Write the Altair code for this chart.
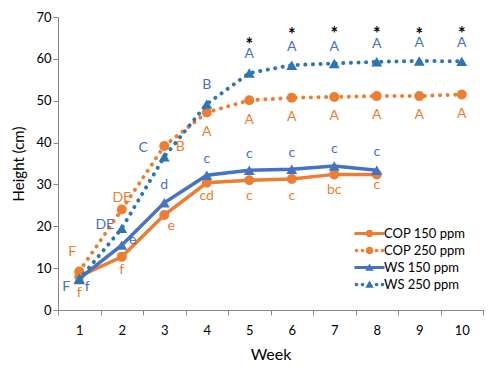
import altair as alt
import pandas as pd

# ---------------- data ----------------
weeks = [1, 2, 3, 4, 5, 6, 7, 8, 9, 10]
series_names = ["COP 150 ppm", "COP 250 ppm", "WS 150 ppm", "WS 250 ppm"]

cop150 = [8.0, 12.7, 22.7, 30.4, 31.0, 31.3, 32.4, 32.4]
cop250 = [9.2, 24.0, 39.2, 47.2, 50.1, 50.7, 50.9, 51.1, 51.1, 51.5]
ws150 = [7.5, 15.5, 25.6, 32.2, 33.4, 33.6, 34.4, 33.4]
ws250 = [7.3, 19.5, 36.6, 49.2, 56.6, 58.5, 58.9, 59.3, 59.5, 59.4]

cop150_letters = ["f", "f", "e", "cd", "c", "c", "bc", "c"]
cop250_letters = ["F", "DE", "B", "A", "A", "A", "A", "A", "A", "A"]
ws150_letters = ["f", "e", "d", "c", "c", "c", "c", "c"]
ws250_letters = ["F", "DE", "C", "B", "A", "A", "A", "A", "A", "A"]
star_weeks = [5, 6, 7, 8, 9, 10]

# ---------------- styles ----------------
ORANGE = "#ED7D31"
BLUE = "#4472C4"
BLUE2 = "#2E75B6"
FONT = "Lato"

# label placement (pixel offsets from the point)
cop150_off = [(0, 16), (0, 13), (7, 11), (0, 13), (0, 16), (0, 17), (0, 16), (0, 11)]
ws150_off = [(8, 8), (11, -5), (0, -18), (0, -16), (0, -16), (0, -16), (0, -17), (0, -18)]
cop250_off = [(-7, -19), (0, -12), (16, 1), (0, 20), (0, 19.5), (0, 19.5), (0, 19), (0, 19), (0, 19), (0, 19.5)]
ws250_off = [(-13, 8), (-17, -3), (-21, -9), (0, -19), (0, -19), (0, -18), (0, -16), (0, -18), (0, -18), (0, -18)]
star_dy = [-27, -29.5, -28, -26.3, -25.4, -26]

rows = []
for name, vals in zip(series_names, [cop150, cop250, ws150, ws250]):
    for w, v in zip(weeks, vals):
        rows.append({"series": name, "week": w, "value": v})
df = pd.DataFrame(rows)

lab_rows = []
label_styles = []
for name, vals, letters, offs, col in [
    ("COP 150 ppm", cop150, cop150_letters, cop150_off, ORANGE),
    ("COP 250 ppm", cop250, cop250_letters, cop250_off, ORANGE),
    ("WS 150 ppm", ws150, ws150_letters, ws150_off, BLUE),
    ("WS 250 ppm", ws250, ws250_letters, ws250_off, BLUE),
]:
    for w, v, t, o in zip(weeks, vals, letters, offs):
        lab_rows.append({"idx": len(lab_rows), "week": w, "value": v, "label": t})
        label_styles.append((o[0], o[1], col, 14, "normal"))
for w, d in zip(star_weeks, star_dy):
    lab_rows.append({"idx": len(lab_rows), "week": w, "value": ws250[w - 1], "label": "*"})
    label_styles.append((0, d, "black", 18, "bold"))
labels = pd.DataFrame(lab_rows)

x_enc = alt.X(
    "week:O",
    scale=alt.Scale(type="band", domain=weeks, paddingInner=0, paddingOuter=0),
    axis=alt.Axis(title="Week", labelAngle=0, tickBand="extent", labelPadding=9,
                  titleY=44, titleBaseline="middle"),
)
y_enc = alt.Y(
    "value:Q",
    scale=alt.Scale(domain=[0, 70], nice=False),
    axis=alt.Axis(title="Height (cm)", values=list(range(0, 71, 10)), labelPadding=2,
                  titleX=-40, titleBaseline="middle", grid=False),
)

layers = []
styles = {
    "COP 150 ppm": dict(color=ORANGE, dash=None, shape="circle", size=100),
    "COP 250 ppm": dict(color=ORANGE, dash=[0.1, 7.5], shape="circle", size=100),
    "WS 150 ppm": dict(color=BLUE, dash=None, shape="triangle-up", size=120),
    "WS 250 ppm": dict(color=BLUE2, dash=[0.1, 7.5], shape="triangle-up", size=120),
}
for name in series_names:
    st = styles[name]
    base = alt.Chart(df).transform_filter(alt.datum.series == name)
    if st["dash"]:
        line = base.mark_line(color=st["color"], strokeWidth=4, strokeDash=st["dash"], strokeCap="round")
    else:
        line = base.mark_line(color=st["color"], strokeWidth=3.5)
    pts = base.mark_point(shape=st["shape"], size=st["size"], filled=True, opacity=1, color=st["color"])
    layers.append(line.encode(x=x_enc, y=y_enc))
    layers.append(pts.encode(x=x_enc, y=y_enc))

for i, (dx, dy, col, fs, fw) in enumerate(label_styles):
    layers.append(
        alt.Chart(labels).transform_filter(alt.datum.idx == i)
        .mark_text(dx=dx, dy=dy, color=col, font=FONT, fontSize=fs, fontWeight=fw, baseline="middle")
        .encode(x=x_enc, y=y_enc, text="label:N")
    )

# ---------------- legend (custom symbols) ----------------
def circ(cx, cy, r):
    return f"M{cx + r},{cy} A{r},{r} 0 1,1 {cx - r},{cy} A{r},{r} 0 1,1 {cx + r},{cy} Z "

def rect(x0, x1, h):
    return f"M{x0},{-h} L{x1},{-h} L{x1},{h} L{x0},{h} Z "

tri = "M2,-0.8 L2.85,0.65 L1.15,0.65 Z "
dots = circ(-0.6, 0, 0.36) + circ(0.6, 0, 0.36) + circ(3.4, 0, 0.36) + circ(4.6, 0, 0.36)
legend_paths = [
    rect(-1, 5, 0.3) + circ(2, 0, 0.75),
    dots + circ(2, 0, 0.75),
    rect(-1, 5, 0.3) + tri,
    dots + tri,
]
legend_colors = [ORANGE, ORANGE, BLUE, BLUE2]
leg = alt.Legend(
    title=None, orient="none", legendX=295, legendY=210, symbolSize=100,
    labelOffset=18, labelFont=FONT, labelFontSize=13, labelColor="black",
    rowPadding=3, padding=0, symbolStrokeWidth=0, symbolOpacity=1,
)
legend_layer = (
    alt.Chart(pd.DataFrame({"series": series_names}))
    .transform_filter(alt.datum.series == "none")
    .mark_point(filled=True, size=100, strokeWidth=0, opacity=1)
    .encode(
        shape=alt.Shape("series:N", scale=alt.Scale(domain=series_names, range=legend_paths), legend=leg),
        fill=alt.Fill("series:N", scale=alt.Scale(domain=series_names, range=legend_colors), legend=leg),
    )
)
layers.append(legend_layer)

chart = (
    alt.layer(*layers)
    .properties(width=425, height=293, autosize=alt.AutoSizeParams(type="none"),
                padding={"left": 50, "top": 9, "right": 3, "bottom": 53})
    .configure_view(stroke=None)
    .configure_axis(
        domainColor="#898989", tickColor="#898989", tickSize=5, labelFont=FONT, labelFontSize=13,
        labelColor="black", titleFont=FONT, titleFontSize=16, titleFontWeight="normal",
        titleColor="black", grid=False,
    )
    .configure_axisY(titleFontSize=15)
)
chart.save("out.html", embed_options={"renderer": "svg", "actions": False})
